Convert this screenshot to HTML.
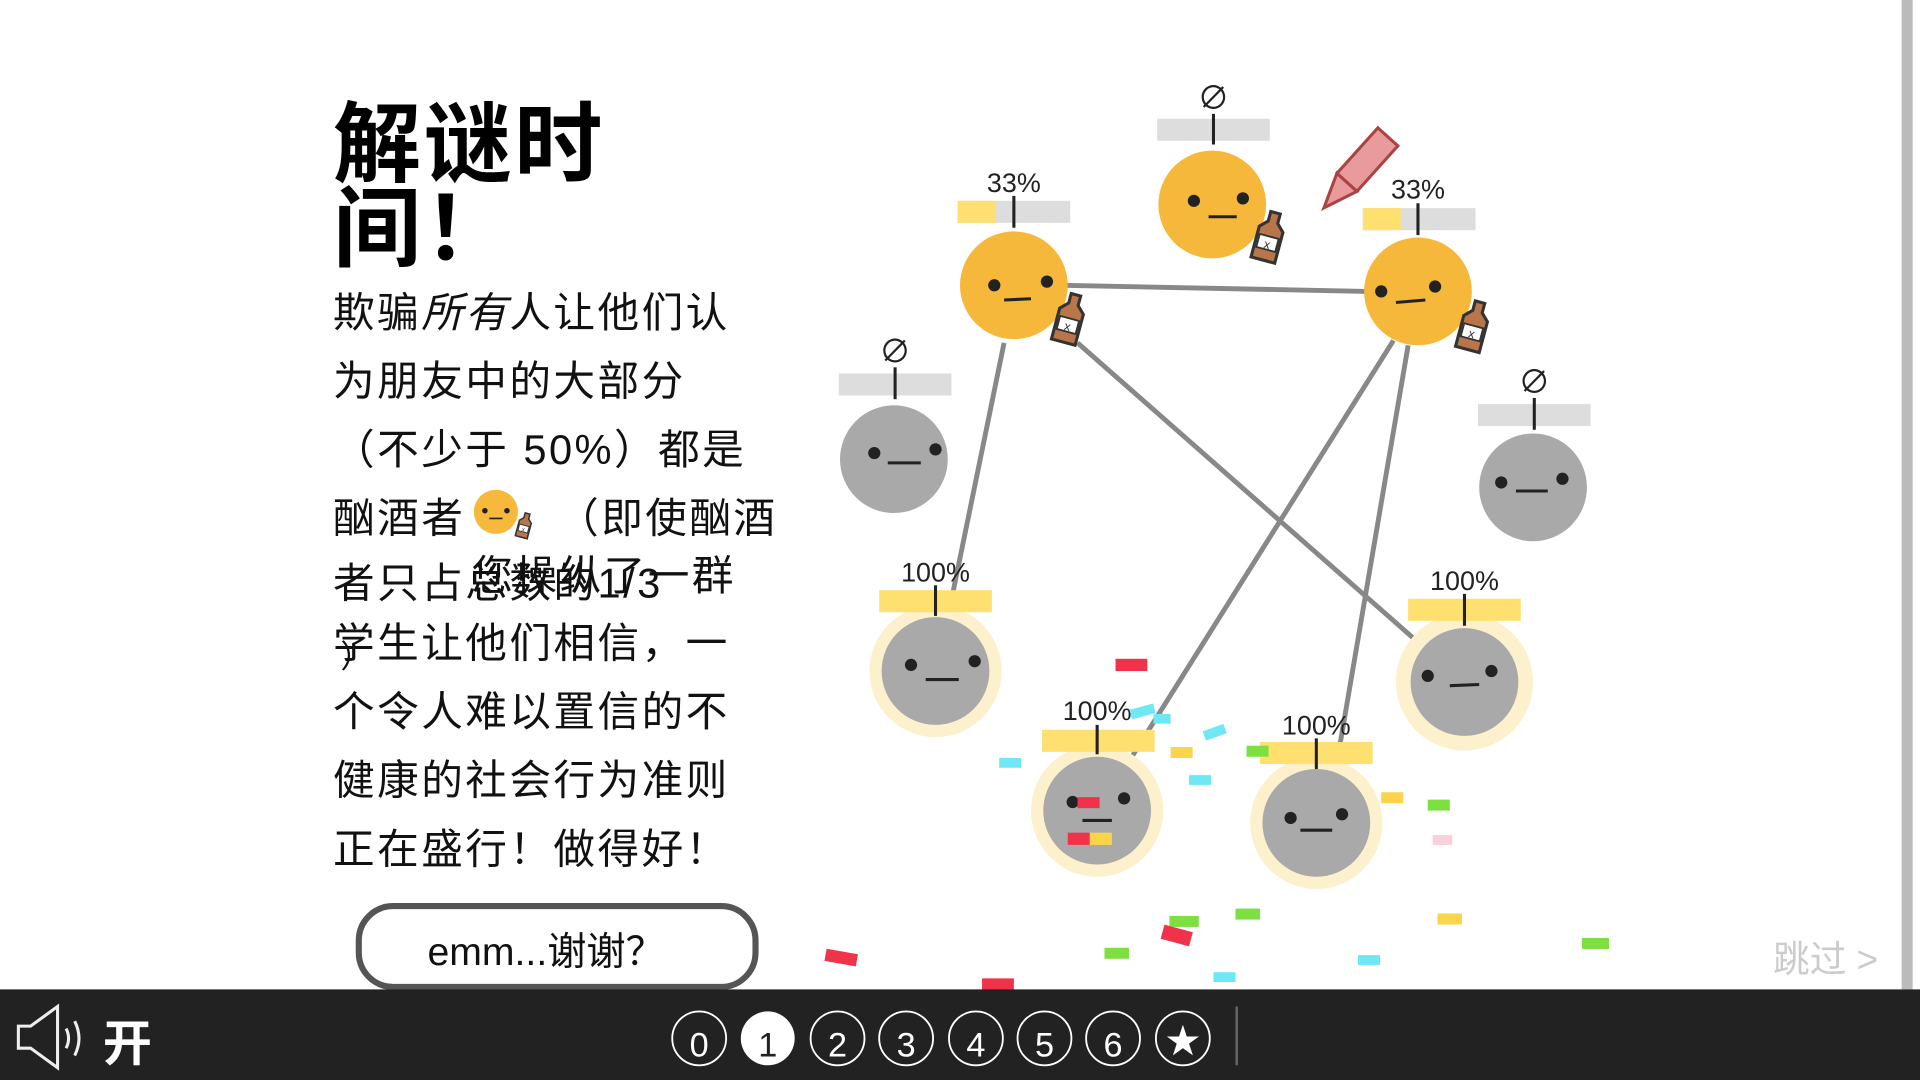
<!DOCTYPE html>
<html><head><meta charset="utf-8"><style>
html,body{margin:0;padding:0;background:#fff;overflow:hidden}
svg{display:block}
text{font-family:"Liberation Sans","Noto Sans CJK SC",sans-serif}
</style></head><body>
<svg width="1920" height="1080" viewBox="0 0 1568 882" preserveAspectRatio="none" xmlns="http://www.w3.org/2000/svg">
<defs>
<g id="bottle">
<path d="M-4,-22 h8 v8 l6,6 v26 h-20 v-26 l6,-6z" fill="#b8764a" stroke="#333" stroke-width="2.5" transform="rotate(15)"/>
<rect x="-8" y="-2" width="16" height="11" fill="#fff" stroke="#333" stroke-width="1.5" transform="rotate(15)"/>
<text x="0" y="8" font-size="10" text-anchor="middle" fill="#333" transform="rotate(15)">x</text>
</g>
</defs>
<rect x="1553" y="0" width="9" height="808" fill="#bbb"/>
<!-- title -->
<text x="272" y="143" font-size="72" font-weight="bold" fill="#000" letter-spacing="2">解谜时</text>
<text x="272" y="212" font-size="72" font-weight="bold" fill="#000" letter-spacing="2">间！</text>
<g font-size="34" fill="#111" letter-spacing="2">
<text x="272" y="267">欺骗<tspan font-style="italic">所有</tspan>人让他们认</text>
<text x="272" y="323">为朋友中的大部分</text>
<text x="272" y="379">（不少于 50%）都是</text>
<text x="272" y="435">酗酒者</text>
<text x="455" y="435">（即使酗酒</text>
<text x="272" y="488">者只占总数的1/3</text>
<text x="385" y="482">您操纵了一群</text>
<text x="272" y="537">学生让他们相信，一</text>
<text x="278" y="545" font-size="26">）</text>
<text x="272" y="593">个令人难以置信的不</text>
<text x="272" y="649">健康的社会行为准则</text>
<text x="272" y="705">正在盛行！做得好！</text>
</g>
<g transform="translate(405,418) scale(0.45)">
<circle r="40" fill="#f6b93b"/><circle cx="-20" cy="-2" r="5" fill="#222"/><circle cx="20" cy="-2" r="5" fill="#222"/><line x1="-12" y1="12" x2="12" y2="12" stroke="#222" stroke-width="3"/>
</g>
<use href="#bottle" transform="translate(428,430) scale(0.5)"/>
<!-- button -->
<rect x="293" y="740" width="324" height="66" rx="28" fill="#fff" stroke="#555" stroke-width="5"/>
<text x="446" y="788" font-size="32" text-anchor="middle" fill="#111">emm...谢谢？</text>
<!-- edges -->
<g stroke="#888" stroke-width="4" fill="none">
<line x1="868" y1="233" x2="1116" y2="238"/>
<line x1="820" y1="280" x2="778" y2="485"/>
<line x1="880" y1="280" x2="1162" y2="528"/>
<line x1="1138" y1="278" x2="920" y2="625"/>
<line x1="1150" y1="282" x2="1094" y2="610"/>
</g>
<!-- halos -->
<g fill="#fdf0cc">
<circle cx="764" cy="548" r="54"/><circle cx="896" cy="662" r="54"/><circle cx="1075" cy="672" r="54"/><circle cx="1196" cy="557" r="56"/>
</g>
<!-- nodes -->
<g>
<g fill="#f5b83a"><circle cx="828" cy="233" r="44"/><circle cx="990" cy="167" r="44"/><circle cx="1158" cy="238" r="44"/></g>
<g fill="#a9a9a9"><circle cx="730" cy="375" r="44"/><circle cx="1252" cy="398" r="44"/><circle cx="764" cy="548" r="44"/><circle cx="896" cy="662" r="44"/><circle cx="1075" cy="672" r="44"/><circle cx="1196" cy="557" r="44"/></g>
<g fill="#222">
<circle cx="812" cy="233" r="5"/><circle cx="855" cy="230" r="5"/>
<circle cx="975" cy="164" r="5"/><circle cx="1015" cy="162" r="5"/>
<circle cx="1128" cy="238" r="5"/><circle cx="1172" cy="234" r="5"/>
<circle cx="714" cy="370" r="5"/><circle cx="764" cy="367" r="5"/>
<circle cx="1226" cy="394" r="5"/><circle cx="1276" cy="391" r="5"/>
<circle cx="744" cy="543" r="5"/><circle cx="796" cy="540" r="5"/>
<circle cx="876" cy="655" r="5"/><circle cx="918" cy="652" r="5"/>
<circle cx="1054" cy="668" r="5"/><circle cx="1096" cy="665" r="5"/>
<circle cx="1166" cy="552" r="5"/><circle cx="1218" cy="548" r="5"/>
</g>
<g stroke="#222" stroke-width="2.5">
<line x1="820" y1="245" x2="842" y2="244"/><line x1="987" y1="177" x2="1010" y2="177"/><line x1="1140" y1="247" x2="1164" y2="245"/>
<line x1="725" y1="378" x2="752" y2="378"/><line x1="1238" y1="401" x2="1264" y2="401"/><line x1="756" y1="555" x2="783" y2="555"/>
<line x1="884" y1="670" x2="908" y2="670"/><line x1="1062" y1="678" x2="1088" y2="678"/><line x1="1184" y1="560" x2="1208" y2="559"/>
</g>
</g>
<use href="#bottle" transform="translate(873,262)"/>
<use href="#bottle" transform="translate(1036,195)"/>
<use href="#bottle" transform="translate(1203,268)"/>
<!-- pencil -->
<g transform="translate(1108,140) rotate(42)">
<rect x="-11" y="-38" width="22" height="50" fill="#e99a9a" stroke="#a44" stroke-width="2.5"/>
<path d="M-11,12 L0,40 L11,12z" fill="#e99a9a" stroke="#a44" stroke-width="2.5"/>
</g>
<!-- labels -->
<g font-size="22" fill="#222" text-anchor="middle">
<g><rect x="782" y="164" width="92" height="18" fill="#ddd"/><rect x="782" y="164" width="31" height="18" fill="#fde070"/><text x="828" y="157">33%</text></g>
<g><rect x="945" y="97" width="92" height="18" fill="#ddd"/><text x="991" y="89" font-size="26">∅</text></g>
<g><rect x="1113" y="170" width="92" height="18" fill="#ddd"/><rect x="1113" y="170" width="31" height="18" fill="#fde070"/><text x="1158" y="162">33%</text></g>
<g><rect x="685" y="305" width="92" height="18" fill="#ddd"/><text x="731" y="296" font-size="26">∅</text></g>
<g><rect x="1207" y="330" width="92" height="18" fill="#ddd"/><text x="1253" y="321" font-size="26">∅</text></g>
<g><rect x="718" y="482" width="92" height="18" fill="#fde070"/><text x="764" y="475">100%</text></g>
<g><rect x="851" y="596" width="92" height="18" fill="#fde070"/><text x="896" y="588">100%</text></g>
<g><rect x="1029" y="606" width="92" height="18" fill="#fde070"/><text x="1075" y="600">100%</text></g>
<g><rect x="1150" y="489" width="92" height="18" fill="#fde070"/><text x="1196" y="482">100%</text></g>
</g>
<g stroke="#222" stroke-width="2.5">
<line x1="828" y1="160" x2="828" y2="186"/><line x1="991" y1="93" x2="991" y2="118"/><line x1="1158" y1="166" x2="1158" y2="192"/>
<line x1="731" y1="300" x2="731" y2="326"/><line x1="1253" y1="325" x2="1253" y2="351"/><line x1="764" y1="478" x2="764" y2="503"/>
<line x1="896" y1="592" x2="896" y2="616"/><line x1="1075" y1="603" x2="1075" y2="628"/><line x1="1196" y1="485" x2="1196" y2="511"/>
</g>
<!-- confetti -->
<g>
<rect x="911" y="538" width="26" height="10" fill="#f0334a"/>
<rect x="923" y="577" width="20" height="8" fill="#6ee8f5" transform="rotate(-15 933 581)"/>
<rect x="942" y="583" width="14" height="8" fill="#6ee8f5"/>
<rect x="983" y="594" width="18" height="8" fill="#6ee8f5" transform="rotate(-20 992 598)"/>
<rect x="816" y="619" width="18" height="8" fill="#6ee8f5"/>
<rect x="956" y="610" width="18" height="9" fill="#fbd44c"/>
<rect x="1018" y="609" width="18" height="9" fill="#7de040"/>
<rect x="971" y="633" width="18" height="8" fill="#6ee8f5"/>
<rect x="880" y="651" width="18" height="9" fill="#f0334a"/>
<rect x="872" y="680" width="18" height="10" fill="#f0334a"/><rect x="890" y="680" width="18" height="10" fill="#fbd44c"/>
<rect x="1128" y="647" width="18" height="9" fill="#fbd44c"/>
<rect x="1166" y="653" width="18" height="9" fill="#7de040"/>
<rect x="1170" y="682" width="16" height="8" fill="#fbd0dc"/>
<rect x="955" y="748" width="24" height="9" fill="#7de040"/>
<rect x="1009" y="742" width="20" height="9" fill="#7de040"/>
<rect x="949" y="758" width="24" height="12" fill="#f0334a" transform="rotate(15 961 764)"/>
<rect x="902" y="774" width="20" height="9" fill="#7de040"/>
<rect x="1174" y="746" width="20" height="9" fill="#fbd44c"/>
<rect x="1292" y="766" width="22" height="9" fill="#7de040"/>
<rect x="1109" y="780" width="18" height="8" fill="#6ee8f5"/>
<rect x="991" y="794" width="18" height="8" fill="#6ee8f5"/>
<rect x="674" y="777" width="26" height="10" fill="#f0334a" transform="rotate(10 687 782)"/>
<rect x="802" y="799" width="26" height="10" fill="#f0334a"/>
</g>
<text x="1448" y="794" font-size="30" fill="#ccc">跳过 &gt;</text>
<!-- bottom bar -->
<rect x="0" y="808" width="1568" height="74" fill="#222"/>
<g stroke="#eee" stroke-width="2.5" fill="none">
<path d="M15,838 h10 l22,-16 v50 l-22,-16 h-10z"/>
<path d="M54,840 q4,8 0,16"/><path d="M61,834 q7,14 0,28"/>
</g>
<text x="84" y="866" font-size="40" fill="#fff" font-weight="bold">开</text>
<g stroke="#fff" stroke-width="1.5" fill="none">
<circle cx="571" cy="848" r="22"/><circle cx="684" cy="848" r="22"/><circle cx="740" cy="848" r="22"/><circle cx="797" cy="848" r="22"/><circle cx="853" cy="848" r="22"/><circle cx="909" cy="848" r="22"/><circle cx="966" cy="848" r="22"/>
</g>
<circle cx="627" cy="848" r="22" fill="#fff"/>
<g font-size="28" fill="#fff" text-anchor="middle">
<text x="571" y="863">0</text><text x="627" y="863" fill="#222">1</text><text x="684" y="863">2</text><text x="740" y="863">3</text><text x="797" y="863">4</text><text x="853" y="863">5</text><text x="909" y="863">6</text><text x="966" y="860">★</text>
</g>
<line x1="1010" y1="822" x2="1010" y2="870" stroke="#666" stroke-width="2"/>
</svg>
</body></html>
